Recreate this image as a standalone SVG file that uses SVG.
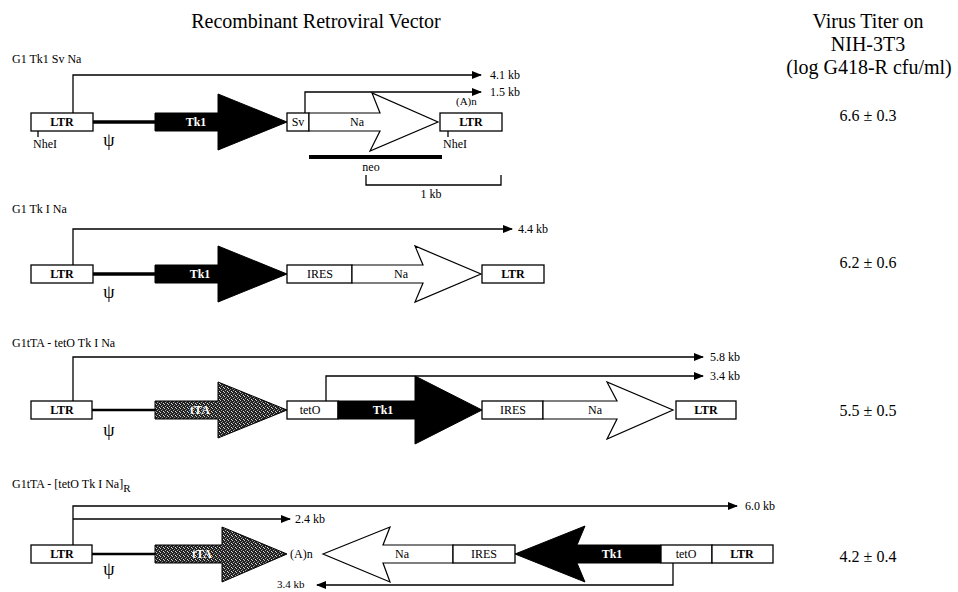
<svg xmlns="http://www.w3.org/2000/svg" width="958" height="592" viewBox="0 0 958 592">
<defs>
<style>
text{font-family:"Liberation Serif","Times New Roman",serif;fill:#000}
.hd{font-size:20px}
.lab{font-size:12px}
.bx{fill:#fff;stroke:#000;stroke-width:1.3}
.bl{font-size:12px;font-weight:bold;text-anchor:middle}
.wl{font-size:12px;font-weight:bold;text-anchor:middle;fill:#fff}
.blk{fill:#000;stroke:#000;stroke-width:1}
.wht{fill:#fff;stroke:#000;stroke-width:1.2}
.stp{fill:url(#stip);stroke:#000;stroke-width:1}
.psi{font-size:18px;text-anchor:middle}
.bb{stroke:#000;stroke-width:3.5;fill:none}
.cn{stroke:#000;stroke-width:1.3;fill:none}
.kb{font-size:12px}
.ti{font-size:16px;text-anchor:middle}
</style>
<pattern id="stip" width="4" height="4" patternUnits="userSpaceOnUse">
<rect width="4" height="4" fill="#222"/>
<rect x="0" y="0" width="1" height="1" fill="#ccc"/>
<rect x="2" y="1" width="1" height="1" fill="#888"/>
<rect x="1" y="2" width="1" height="1" fill="#aaa"/>
<rect x="3" y="3" width="1" height="1" fill="#ddd"/>
</pattern>
<marker id="ah" markerWidth="10" markerHeight="8" refX="9" refY="4" orient="auto" markerUnits="userSpaceOnUse">
<path d="M0,0 L10,4 L0,8 Z" fill="#000"/>
</marker>
</defs>
<rect width="958" height="592" fill="#fff"/>

<g id="headers">
<text class="hd" x="316" y="28" text-anchor="middle">Recombinant Retroviral Vector</text>
<text class="hd" x="868" y="28" text-anchor="middle">Virus Titer on</text>
<text class="hd" x="868" y="51" text-anchor="middle">NIH-3T3</text>
<text class="hd" x="869" y="74" text-anchor="middle">(log G418-R cfu/ml)</text>
</g>

<g id="connectors">
<polyline class="cn" points="73,113 73,75 481,75" marker-end="url(#ah)"/>
<polyline class="cn" points="305,113 305,92 481,92" marker-end="url(#ah)"/>
<polyline class="cn" points="73,265 73,229 512,229" marker-end="url(#ah)"/>
<polyline class="cn" points="73,401 73,357 703,357" marker-end="url(#ah)"/>
<polyline class="cn" points="326,401 326,376 703,376" marker-end="url(#ah)"/>
<polyline class="cn" points="73,545 73,506 737,506" marker-end="url(#ah)"/>
<polyline class="cn" points="73,519 290,519" marker-end="url(#ah)"/>
<polyline class="cn" points="673,563 673,585 317,585" marker-end="url(#ah)"/>
</g>

<g id="construct1">
<text class="lab" x="12" y="63">G1 Tk1 Sv Na</text>
<line class="bb" x1="93" y1="122" x2="156" y2="122"/>
<g id="c1-ltr5"><rect class="bx" x="31" y="113" width="62" height="18"/><text class="bl" x="62" y="126">LTR</text></g>
<g id="c1-tk1"><polygon class="blk" points="155,113 218,113 218,94 287,122 218,150 218,131 155,131"/><text class="wl" x="196" y="126">Tk1</text></g>
<g id="c1-sv"><rect class="bx" x="287" y="113" width="22" height="18"/><text class="lab" x="298" y="126" text-anchor="middle">Sv</text></g>
<g id="c1-na"><polygon class="wht" points="309,113 380,113 372,93 438,122 370,151 380,131 309,131"/><text class="lab" x="357" y="126" text-anchor="middle">Na</text></g>
<g id="c1-ltr3"><rect class="bx" x="440" y="113" width="62" height="18"/><text class="bl" x="471" y="126">LTR</text></g>
<text class="lab" x="456" y="105" style="font-size:11px">(A)n</text>
<text class="kb" x="490" y="79">4.1 kb</text>
<text class="kb" x="490" y="96">1.5 kb</text>
<line class="cn" x1="38" y1="131" x2="38" y2="137"/>
<text class="lab" x="33" y="148">NheI</text>
<line class="cn" x1="448" y1="131" x2="448" y2="137"/>
<text class="lab" x="443" y="148">NheI</text>
<text class="psi" x="109" y="146">ψ</text>
<line x1="309" y1="157" x2="442" y2="157" stroke="#000" stroke-width="4"/>
<text class="lab" x="371" y="171" text-anchor="middle">neo</text>
<polyline class="cn" points="366,175 366,185 501,185 501,175"/>
<text class="lab" x="431" y="198" text-anchor="middle">1 kb</text>
<text class="ti" x="868" y="121">6.6 ± 0.3</text>
</g>

<g id="construct2">
<text class="lab" x="12" y="213">G1 Tk I Na</text>
<line class="bb" x1="93" y1="274" x2="156" y2="274"/>
<g id="c2-ltr5"><rect class="bx" x="31" y="265" width="62" height="18"/><text class="bl" x="62" y="278">LTR</text></g>
<g id="c2-tk1"><polygon class="blk" points="155,265 218,265 218,246 287,274 218,302 218,283 155,283"/><text class="wl" x="200" y="278">Tk1</text></g>
<g id="c2-ires"><rect class="bx" x="287" y="265" width="65" height="18"/><text class="lab" x="320" y="278" text-anchor="middle">IRES</text></g>
<g id="c2-na"><polygon class="wht" points="352,265 423,265 415,246 481,274 415,302 423,283 352,283"/><text class="lab" x="401" y="278" text-anchor="middle">Na</text></g>
<g id="c2-ltr3"><rect class="bx" x="482" y="265" width="62" height="18"/><text class="bl" x="513" y="278">LTR</text></g>
<text class="kb" x="518" y="233">4.4 kb</text>
<text class="psi" x="109" y="298">ψ</text>
<text class="ti" x="868" y="268">6.2 ± 0.6</text>
</g>

<g id="construct3">
<text class="lab" x="12" y="347">G1tTA - tetO Tk I Na</text>
<line class="bb" x1="92" y1="410" x2="156" y2="410" style="stroke-width:2.5"/>
<g id="c3-ltr5"><rect class="bx" x="31" y="401" width="61" height="18"/><text class="bl" x="62" y="414">LTR</text></g>
<g id="c3-tta"><polygon class="stp" points="155,401 218,401 218,382 287,410 218,438 218,419 155,419"/><text class="wl" x="200" y="414">tTA</text></g>
<g id="c3-teto"><rect class="bx" x="287" y="401" width="51" height="18"/><text class="lab" x="310" y="414" text-anchor="middle">tetO</text></g>
<g id="c3-tk1"><polygon class="blk" points="338,401 415,401 415,376 482,410 415,444 415,419 338,419"/><text class="wl" x="383" y="414">Tk1</text></g>
<g id="c3-ires"><rect class="bx" x="482" y="401" width="61" height="18"/><text class="lab" x="513" y="414" text-anchor="middle">IRES</text></g>
<g id="c3-na"><polygon class="wht" points="543,401 617,401 607,382 673,410 607,439 617,419 543,419"/><text class="lab" x="595" y="414" text-anchor="middle">Na</text></g>
<g id="c3-ltr3"><rect class="bx" x="676" y="401" width="60" height="18"/><text class="bl" x="706" y="414">LTR</text></g>
<text class="kb" x="710" y="361">5.8 kb</text>
<text class="kb" x="710" y="380">3.4 kb</text>
<text class="psi" x="109" y="436">ψ</text>
<text class="ti" x="868" y="416">5.5 ± 0.5</text>
</g>

<g id="construct4">
<text class="lab" x="12" y="488">G1tTA - [tetO Tk I Na]<tspan dy="4" font-size="11">R</tspan></text>
<line class="bb" x1="92" y1="554" x2="156" y2="554" style="stroke-width:2.5"/>
<g id="c4-ltr5"><rect class="bx" x="31" y="545" width="61" height="18"/><text class="bl" x="62" y="558">LTR</text></g>
<g id="c4-tta"><polygon class="stp" points="155,545 222,545 222,527 287,554 222,582 222,563 155,563"/><text class="wl" x="202" y="558">tTA</text></g>
<text class="lab" x="290" y="558">(A)n</text>
<g id="c4-na"><polygon class="wht" points="323,554 390,527 383,545 453,545 453,563 383,563 390,582"/><text class="lab" x="402" y="558" text-anchor="middle">Na</text></g>
<g id="c4-ires"><rect class="bx" x="453" y="545" width="62" height="18"/><text class="lab" x="484" y="558" text-anchor="middle">IRES</text></g>
<g id="c4-tk1"><polygon class="blk" points="515,554 585,526 577,545 661,545 661,563 577,563 585,582"/><text class="wl" x="612" y="558">Tk1</text></g>
<g id="c4-teto"><rect class="bx" x="661" y="545" width="51" height="18"/><text class="lab" x="686" y="558" text-anchor="middle">tetO</text></g>
<g id="c4-ltr3"><rect class="bx" x="712" y="545" width="61" height="18"/><text class="bl" x="742" y="558">LTR</text></g>
<text class="kb" x="745" y="510">6.0 kb</text>
<text class="kb" x="295" y="523">2.4 kb</text>
<text class="kb" x="277" y="588" style="font-size:11px">3.4 kb</text>
<text class="psi" x="109" y="575">ψ</text>
<text class="ti" x="868" y="562">4.2 ± 0.4</text>
</g>
</svg>
